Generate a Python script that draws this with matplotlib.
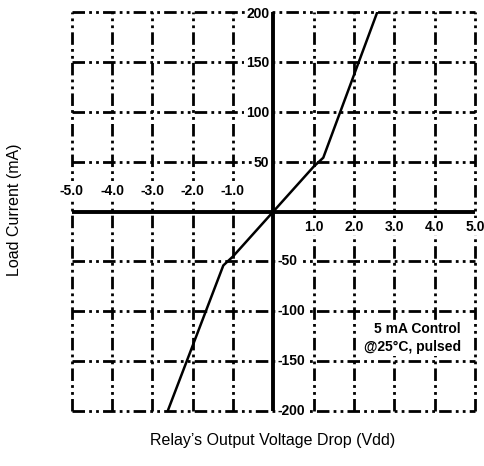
import matplotlib.pyplot as plt
import numpy as np

plt.rcParams['font.family'] = ['Liberation Sans', 'DejaVu Sans']

# Curve: voltage drop (V) vs load current (mA)
voltage = [-2.62, -1.24, -1.0, 0.0, 1.0, 1.24, 2.58]
current = [-200, -54, -45, 0, 45, 54, 200]

x_ticks = [-5, -4, -3, -2, -1, 1, 2, 3, 4, 5]
x_labels = ['-5.0', '-4.0', '-3.0', '-2.0', '-1.0', '1.0', '2.0', '3.0', '4.0', '5.0']
y_ticks = [-200, -150, -100, -50, 50, 100, 150, 200]
y_labels = ['-200', '-150', '-100', '-50', '50', '100', '150', '200']

fig = plt.figure(figsize=(4.85, 4.66), dpi=100)
ax = fig.add_axes([0.148, 0.118, 0.831, 0.856])
ax.set_xlim(-5, 5)
ax.set_ylim(-200, 200)
for s in ax.spines.values():
    s.set_visible(False)
ax.set_xticks([])
ax.set_yticks([])

# dash-dot-dot grid
grid_style = (0, (4.5, 1.5, 1, 1.5, 1, 1.5))
for x in x_ticks:
    ax.axvline(x, color='black', lw=2, linestyle=grid_style, clip_on=False, zorder=1)
for y in y_ticks:
    ax.axhline(y, color='black', lw=2, linestyle=grid_style, clip_on=False, zorder=1)

# axes through the origin
ax.axhline(0, color='black', lw=2.8, zorder=2)
ax.axvline(0, color='black', lw=2.8, zorder=2)

ax.plot(voltage, current, color='black', lw=1.8, zorder=3)

# tick labels, with white boxes that break the grid lines
box = dict(facecolor='white', edgecolor='none', pad=1)
for x, lab in zip(x_ticks, x_labels):
    dy = 15 if x < 0 else -11
    ax.annotate(lab, (x, 0), xytext=(0, dy), textcoords='offset points',
                ha='center', va='center', fontsize=10, fontweight='bold', zorder=4,
                bbox=box, annotation_clip=False)
for y, lab in zip(y_ticks, y_labels):
    if y > 0:
        ax.annotate(lab, (0, y), xytext=(-3, -1), textcoords='offset points',
                    ha='right', va='center', fontsize=10, fontweight='bold', zorder=4,
                    bbox=box, annotation_clip=False)
    else:
        ax.annotate(lab, (0, y), xytext=(3, 0), textcoords='offset points',
                    ha='left', va='center', fontsize=10, fontweight='bold', zorder=4,
                    bbox=box, annotation_clip=False)

ax.text(4.65, -127, '5 mA Control\n@25\u00b0C, pulsed', ha='right', va='center',
        fontsize=10, fontweight='bold', linespacing=1.4, zorder=4,
        bbox=dict(facecolor='white', edgecolor='none', pad=1))

fig.text(0.03, 0.55, 'Load Current (mA)', rotation=90, ha='center', va='center', fontsize=11.5)
fig.text(0.563, 0.055, 'Relay\u2019s Output Voltage Drop (Vdd)', ha='center', va='center', fontsize=11.5)

fig.savefig('out.png', dpi=100)
